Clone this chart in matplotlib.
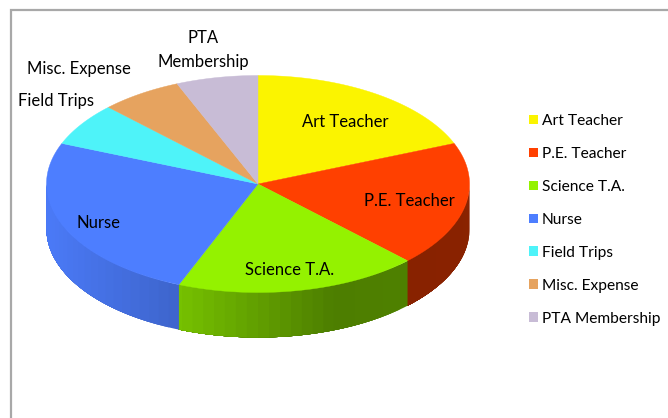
#!/usr/bin/env python3
"""
School budget pie chart drawn as a tilted 3D pie
"""
import numpy as np
import matplotlib
matplotlib.use("Agg")
import matplotlib.pyplot as plt
from matplotlib.patches import Patch, Polygon
from matplotlib.colors import to_rgb

# Data (percent of budget)
categories = ['Art Teacher', 'P.E. Teacher', 'Science T.A.', 'Nurse',
              'Field Trips', 'Misc. Expense', 'PTA Membership']
shares = [18.9, 18.6, 18.6, 25.0, 6.4, 6.25, 6.25]
colors = ['#fbf400', '#ff4000', '#94f200', '#4d7eff', '#4ef3f9', '#e6a35f', '#c8bcd6']

# Settings (pixels)
cx, cy = 258, 184
rx, ry = 211.5, 108.5
depth = 45


def ellipse_points(t):
    """Point on the top ellipse, t in degrees clockwise from 12 o'clock"""
    r = np.radians(t)
    return cx + rx * np.sin(r), cy - ry * np.cos(r)


def side_shade(x):
    """Brightness of the pie wall at pixel column x"""
    return np.interp(x, [46, 177, 334, 470], [0.97, 0.8, 0.52, 0.54])


def main():
    plt.rcParams['font.family'] = ['Lato', 'DejaVu Sans']
    fig = plt.figure(figsize=(6.68, 4.18), dpi=100)
    ax = fig.add_axes([0, 0, 1, 1])
    ax.set_xlim(0, 668)
    ax.set_ylim(418, 0)
    ax.axis('off')

    # Chart frame, only top and left show
    ax.plot([668, 11, 11], [10, 10, 418], color='#a8a8a8', lw=1.6, solid_joinstyle='miter')

    edges = np.concatenate([[0], np.cumsum(shares) / np.sum(shares) * 360])

    # Wall of the pie, front half only. Each band runs to the end of its slice
    # and the next one paints over it, so no seams show between bands
    for start, end, color in zip(edges[:-1], edges[1:], colors):
        lo, hi = max(start, 90), min(end, 270)
        if lo >= hi:
            continue
        for a in np.arange(lo, hi, 3.0):
            xs, ys = ellipse_points(np.linspace(a, hi, 80))
            pts = np.column_stack([np.r_[xs, xs[::-1]], np.r_[ys, ys[::-1] + depth]])
            mid_x = ellipse_points(min(a + 1.5, hi))[0]
            shade = np.array(to_rgb(color)) * side_shade(mid_x)
            ax.add_patch(Polygon(pts, closed=True, facecolor=shade, edgecolor='none'))

    # Top of the pie
    for start, end, color in zip(edges[:-1], edges[1:], colors):
        xs, ys = ellipse_points(np.linspace(start, end, 120))
        pts = np.column_stack([np.r_[cx, xs], np.r_[cy, ys]])
        ax.add_patch(Polygon(pts, closed=True, facecolor=color, edgecolor=color, lw=0.3))

    # Data labels
    fs = 12
    ax.text(345, 122, 'Art Teacher', ha='center', va='center', fontsize=fs)
    ax.text(409, 201, 'P.E. Teacher', ha='center', va='center', fontsize=fs)
    ax.text(290, 270, 'Science T.A.', ha='center', va='center', fontsize=fs)
    ax.text(98, 223, 'Nurse', ha='center', va='center', fontsize=fs)
    ax.text(56, 101, 'Field Trips', ha='center', va='center', fontsize=fs)
    ax.text(79, 69, 'Misc. Expense', ha='center', va='center', fontsize=fs)
    ax.text(203, 50, 'PTA\nMembership', ha='center', va='center', fontsize=fs, linespacing=1.6)

    # Legend
    handles = [Patch(facecolor=c, edgecolor=c, lw=0) for c in colors]
    ax.legend(handles, categories, loc='upper left', bbox_to_anchor=(529 / 668, 1 - 114 / 418),
              frameon=False, fontsize=11.2, handlelength=0.6, handleheight=0.6,
              handletextpad=0.24, labelspacing=1.22, borderpad=0, borderaxespad=0)

    fig.savefig('out.png', dpi=100, facecolor='white')


if __name__ == "__main__":
    main()
